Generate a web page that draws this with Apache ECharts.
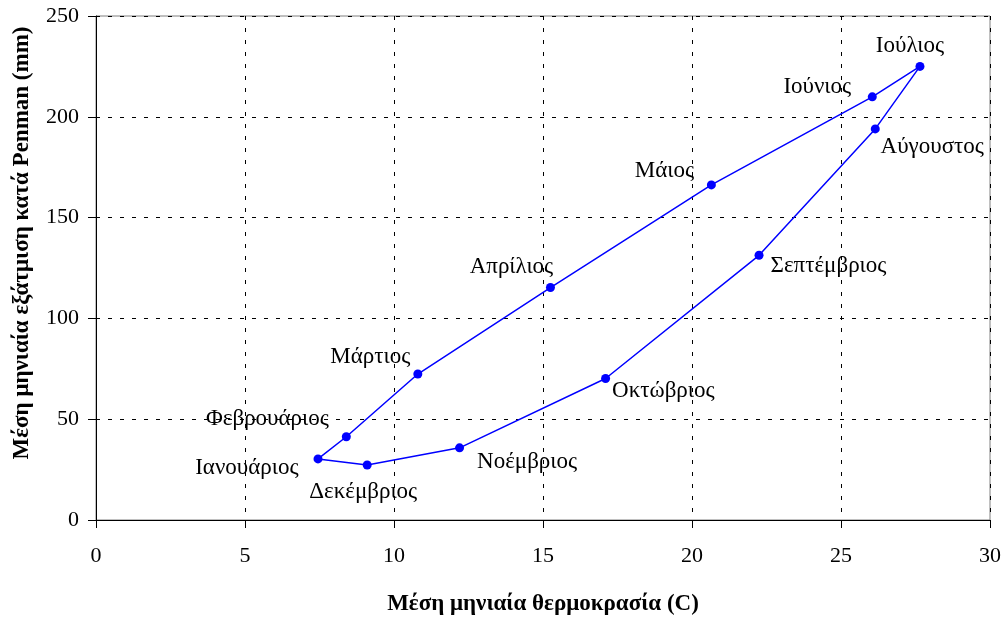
<!DOCTYPE html>
<html>
<head>
<meta charset="utf-8">
<script src="https://cdn.jsdelivr.net/npm/echarts@6/dist/echarts.min.js"></script>
<style>
  html, body { margin: 0; padding: 0; background: #fff; }
  #chart { width: 1005px; height: 621px; }
</style>
</head>
<body>
<div id="chart"></div>
<script>
// monthly data (loop Jan -> Dec -> Jan)
const months = ['Ιανουάριος', 'Φεβρουάριος', 'Μάρτιος', 'Απρίλιος', 'Μάιος', 'Ιούνιος',
  'Ιούλιος', 'Αύγουστος', 'Σεπτέμβριος', 'Οκτώβριος', 'Νοέμβριος', 'Δεκέμβριος']
const temperature = [7.45, 8.4, 10.8, 15.25, 20.65, 26.05, 27.65, 26.15, 22.25, 17.1, 12.2, 9.1]
const evaporation = [30.3, 41.3, 72.4, 115.3, 166.2, 209.9, 225.0, 194.0, 131.3, 70.2, 35.8, 27.3]
const xTicks = [0, 5, 10, 15, 20, 25, 30]
const yTicks = [0, 50, 100, 150, 200, 250]

// label placement per month
const labelLayout = [
  { position: 'left', distance: 15, offset: [0, 9] },
  { position: 'left', distance: 13, offset: [0, -18] },
  { position: 'left', distance: 3, offset: [0, -17] },
  { position: 'top', distance: 5, offset: [-39, 0] },
  { position: 'top', distance: 5, offset: [-47, 7] },
  { position: 'top', distance: 5, offset: [-55, 11] },
  { position: 'top', distance: 5, offset: [-10, 1] },
  { position: 'bottom', distance: 5, offset: [57, -3] },
  { position: 'right', distance: 7, offset: [0, 11] },
  { position: 'right', distance: 2, offset: [0, 12] },
  { position: 'right', distance: 13, offset: [0, 14] },
  { position: 'bottom', distance: 5, offset: [-4, 6] }
]

const serif = '"Liberation Serif", "DejaVu Serif", serif'

const points = months.map((m, i) => ({
  value: [temperature[i], evaporation[i]],
  name: m,
  label: labelLayout[i]
}))
// close the loop back to January
points.push({ value: [temperature[0], evaporation[0]], name: months[0], label: { show: false }, symbolSize: 0 })

const chart = echarts.init(document.getElementById('chart'))
chart.setOption({
  animation: false,
  grid: {
    left: 96,
    right: 15,
    top: 16,
    bottom: 101,
    show: true,
    borderColor: '#808080',
    borderWidth: 1
  },
  xAxis: {
    type: 'value',
    min: xTicks[0],
    max: xTicks[xTicks.length - 1],
    interval: 5,
    name: 'Μέση μηνιαία θερμοκρασία (C)',
    nameLocation: 'middle',
    nameGap: 73,
    nameTextStyle: { fontFamily: serif, fontWeight: 'bold', fontSize: 23, color: '#000' },
    axisLine: { lineStyle: { color: '#000', width: 1 } },
    axisTick: { show: true, length: 8, lineStyle: { color: '#000' } },
    axisLabel: { fontFamily: serif, fontSize: 22, color: '#000', margin: 25 },
    splitLine: { show: true, lineStyle: { color: '#000', type: [4, 8], width: 1 } }
  },
  yAxis: {
    type: 'value',
    min: yTicks[0],
    max: yTicks[yTicks.length - 1],
    interval: 50,
    name: 'Μέση μηνιαία εξάτμιση κατά Penman (mm)',
    nameLocation: 'middle',
    nameGap: 62,
    nameTextStyle: { fontFamily: serif, fontWeight: 'bold', fontSize: 23, color: '#000', padding: [0, 0, 0, 50] },
    axisLine: { show: true, lineStyle: { color: '#000', width: 1 } },
    axisTick: { show: true, length: 8, lineStyle: { color: '#000' } },
    axisLabel: { fontFamily: serif, fontSize: 22, color: '#000', margin: 17 },
    splitLine: { show: true, lineStyle: { color: '#000', type: [4, 8], width: 1 } }
  },
  series: [{
    type: 'line',
    data: points,
    symbol: 'circle',
    symbolSize: 9,
    itemStyle: { color: '#0000ff' },
    lineStyle: { color: '#0000ff', width: 1.5 },
    label: {
      show: true,
      formatter: p => p.name,
      fontFamily: serif,
      fontSize: 23,
      color: '#000'
    }
  }]
})
</script>
</body>
</html>
